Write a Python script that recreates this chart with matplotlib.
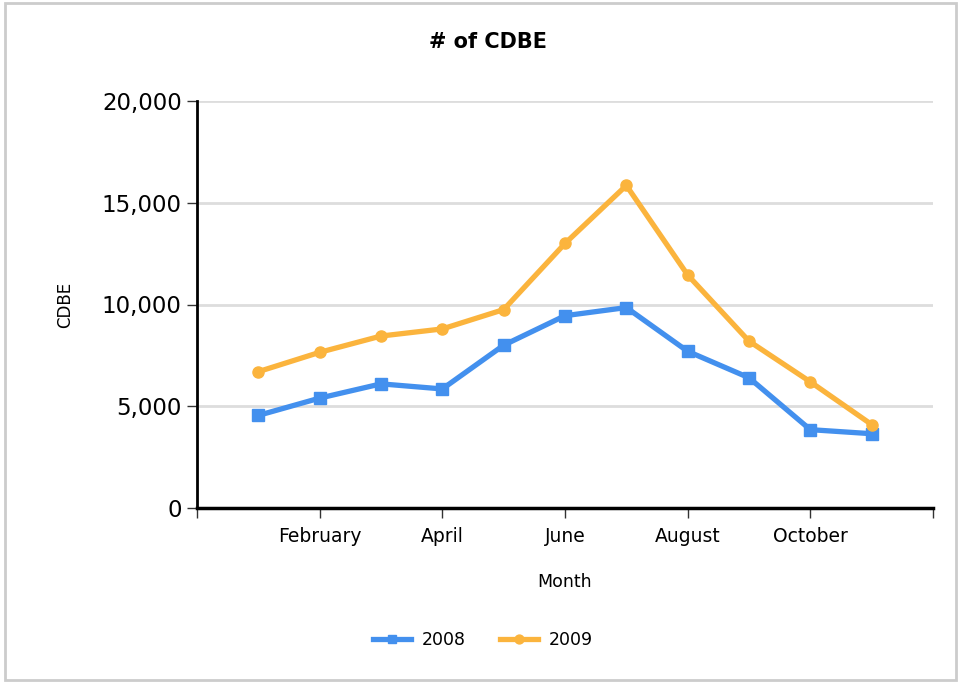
import matplotlib.pyplot as plt
from matplotlib.patches import Rectangle

months = ['January', 'February', 'March', 'April', 'May', 'June', 'July',
          'August', 'September', 'October', 'November']
cdbe_2008 = [4550, 5400, 6100, 5850, 8000, 9450, 9850, 7700, 6400, 3850, 3650]
cdbe_2009 = [6700, 7650, 8450, 8800, 9750, 13000, 15850, 11450, 8200, 6200, 4100]

plt.rcParams['font.family'] = ['DejaVu Sans']

fig = plt.figure(figsize=(9.59, 6.82), dpi=100)
ax = fig.add_axes([197 / 959, 1 - 508 / 682, 736 / 959, 407 / 682])

x = list(range(1, len(months) + 1))
ax.plot(x, cdbe_2008, color='#4390ee', lw=3.8, marker='s', ms=8, label='2008')
ax.plot(x, cdbe_2009, color='#fbb43d', lw=3.8, marker='o', ms=8, label='2009')

ax.set_xlim(0, 12)
ax.set_ylim(0, 20000)
ax.set_xticks(range(0, 13, 2))
ax.set_xticklabels([''] + [months[i - 1] for i in range(2, 11, 2)] + [''], fontsize=13.5)
ax.set_yticks(range(0, 20001, 5000))
ax.set_yticklabels([f'{v:,}' for v in range(0, 20001, 5000)], fontsize=16.5)
ax.tick_params(axis='both', length=7, width=1, color='#333333')
ax.tick_params(axis='x', pad=7)
ax.tick_params(axis='y', pad=4)

ax.grid(axis='y', color='#dddddd', lw=2)
ax.set_axisbelow(True)
for s in ['top', 'right']:
    ax.spines[s].set_visible(False)
ax.spines['left'].set_linewidth(2)
ax.spines['bottom'].set_linewidth(2.5)

ax.set_xlabel('Month', fontsize=12.5, labelpad=19)
ax.set_ylabel('CDBE', fontsize=12, labelpad=20)
fig.text(0.509, 1 - 42 / 682, '# of CDBE', ha='center', va='center',
         fontsize=15, fontweight='bold')

fig.legend(loc='center', bbox_to_anchor=(483 / 959, 1 - 640 / 682), ncol=2,
           frameon=False, fontsize=12.5, handlelength=2.2, columnspacing=2.0,
           handletextpad=0.6, markerscale=0.8)

fig.patches.append(Rectangle((5 / 959, 2 / 682), 951 / 959, 677 / 682,
                             transform=fig.transFigure, fill=False,
                             edgecolor='#cccccc', lw=2))

plt.savefig('out.png')
